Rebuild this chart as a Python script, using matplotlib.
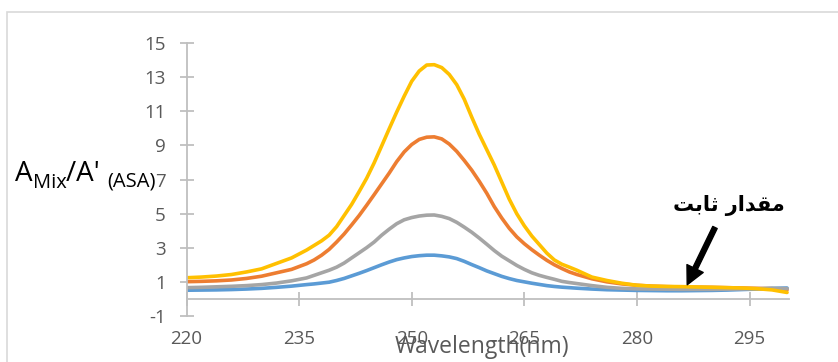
import numpy as np
import matplotlib
matplotlib.use("Agg")
import matplotlib.pyplot as plt
from matplotlib.patches import Rectangle

plt.rcParams['font.family'] = ['Open Sans', 'DejaVu Sans']
plt.rcParams['axes.unicode_minus'] = False

# ── Spectra (ratio of mixture absorbance to ASA absorbance) ──────────────────
# 2 nm steps on the flanks, 1 nm steps across the band
wavelength = ([220, 222, 224, 226, 228, 230, 232, 234]
              + list(range(236, 273))
              + [274, 276, 278, 280, 282, 284, 286, 288, 290, 292, 294, 296, 298, 300])

ratio_blue = ([0.53, 0.54, 0.55, 0.57, 0.60, 0.64, 0.70, 0.77]
              + [0.86, 0.90, 0.95, 1.00, 1.10, 1.22, 1.37, 1.52, 1.68, 1.85,
                 2.02, 2.18, 2.32, 2.42, 2.50, 2.55, 2.58, 2.58, 2.54, 2.48,
                 2.38, 2.22, 2.03, 1.85, 1.66, 1.50, 1.34, 1.21, 1.10, 1.02,
                 0.94, 0.87, 0.80, 0.75, 0.71, 0.68, 0.65]
              + [0.60, 0.56, 0.54, 0.52, 0.51, 0.50, 0.50, 0.51, 0.52, 0.54,
                 0.57, 0.60, 0.64, 0.66])

ratio_orange = ([1.03, 1.05, 1.08, 1.13, 1.22, 1.35, 1.55, 1.75]
                + [2.08, 2.30, 2.58, 2.92, 3.35, 3.82, 4.35, 4.90, 5.50, 6.12,
                   6.75, 7.38, 8.05, 8.62, 9.05, 9.35, 9.48, 9.50, 9.38, 9.08,
                   8.65, 8.12, 7.55, 6.90, 6.20, 5.42, 4.75, 4.15, 3.65, 3.25,
                   2.90, 2.58, 2.28, 2.02, 1.80, 1.60, 1.45]
                + [1.20, 1.02, 0.90, 0.82, 0.77, 0.74, 0.72, 0.71, 0.70, 0.68,
                   0.66, 0.64, 0.62, 0.55])

ratio_gray = ([0.68, 0.70, 0.73, 0.76, 0.80, 0.86, 0.95, 1.08]
              + [1.25, 1.40, 1.55, 1.70, 1.88, 2.12, 2.42, 2.72, 3.02, 3.35,
                 3.75, 4.10, 4.42, 4.65, 4.78, 4.87, 4.92, 4.93, 4.85, 4.72,
                 4.50, 4.22, 3.92, 3.58, 3.22, 2.85, 2.52, 2.25, 1.98, 1.75,
                 1.55, 1.40, 1.28, 1.17, 1.05, 0.98, 0.92]
              + [0.80, 0.70, 0.64, 0.61, 0.60, 0.59, 0.58, 0.58, 0.58, 0.59,
                 0.60, 0.62, 0.64, 0.62])

ratio_yellow = ([1.26, 1.30, 1.36, 1.45, 1.60, 1.78, 2.10, 2.42]
                + [2.88, 3.15, 3.42, 3.75, 4.25, 4.90, 5.55, 6.30, 7.08, 7.98,
                   8.97, 9.97, 10.95, 11.88, 12.75, 13.35, 13.70, 13.72, 13.55, 13.15,
                   12.55, 11.70, 10.65, 9.65, 8.75, 7.85, 6.85, 5.85, 5.00, 4.30,
                   3.70, 3.20, 2.70, 2.30, 2.05, 1.88, 1.70]
                + [1.30, 1.10, 0.94, 0.82, 0.77, 0.75, 0.74, 0.72, 0.70, 0.68,
                   0.66, 0.62, 0.55, 0.40])

y_ticks = [-1, 1, 3, 5, 7, 9, 11, 13, 15]
x_ticks = [220, 235, 250, 265, 280, 295]

series = [(ratio_blue, '#5B9BD5'), (ratio_orange, '#ED7D31'),
          (ratio_gray, '#A5A5A5'), (ratio_yellow, '#FFC000')]

W, H = 838, 362
fig = plt.figure(figsize=(W / 100, H / 100), dpi=100)
fig.patch.set_facecolor('white')

# chart-area border
fig.patches.append(Rectangle((7 / W, -0.1), 1.2, 1 - 12 / H + 0.1,
                             transform=fig.transFigure, fill=False,
                             edgecolor='#D9D9D9', lw=1.2))

ax = fig.add_axes([186.5 / W, (H - 316.4) / H, 602.8 / W, 273.6 / H])
for vals, col in series:
    ax.plot(wavelength, vals, color=col, lw=2.6, solid_capstyle='round',
            solid_joinstyle='round')

ax.set_xlim(220, 300.3)
ax.set_ylim(-1, 15)
ax.set_xticks(x_ticks)
ax.set_yticks(y_ticks)

axis_col = '#BFBFBF'
for s in ['top', 'right']:
    ax.spines[s].set_visible(False)
ax.spines['bottom'].set_position(('data', 0))
for s in ['left', 'bottom']:
    ax.spines[s].set_color(axis_col)
    ax.spines[s].set_linewidth(1.3)

ax.tick_params(axis='both', direction='inout', length=10, width=1.3,
               color=axis_col, labelcolor='#595959', labelsize=13.5)
ax.tick_params(axis='y', pad=10)
ax.tick_params(axis='x', pad=17)

fig.text(482 / W, 1 - 347 / H, 'Wavelength(nm)', ha='center', va='center',
         fontsize=16.5, color='#595959')

# y-axis title built from normal-size and subscript pieces
fig.canvas.draw()
renderer = fig.canvas.get_renderer()
x_px = 15
pieces = [("A", 20, 181), ("Mix", 14.5, 188), ("/A' ", 20, 181), ("(ASA)", 14.5, 187)]
for txt, size, base in pieces:
    t = fig.text(x_px / W, 1 - base / H, txt, fontsize=size, color='black',
                 ha='left', va='baseline')
    bb = t.get_window_extent(renderer)
    x_px += bb.width

# constant-value region: label and arrow
fig.text(729 / W, 1 - 205 / H,
         '\uFE96\uFE91\uFE8E\uFE9B \uFEAD\uFE8D\uFEAA\uFED8\uFEE3',
         fontsize=15, fontweight='bold', family=['DejaVu Sans'],
         ha='center', va='center', color='black')
ax.annotate('', xy=(286.7, 0.85), xytext=(290.4, 4.2),
            arrowprops=dict(facecolor='black', edgecolor='black',
                            width=3.5, headwidth=13, headlength=13,
                            shrink=0.0))

fig.savefig('out.png', dpi=100, facecolor='white')
